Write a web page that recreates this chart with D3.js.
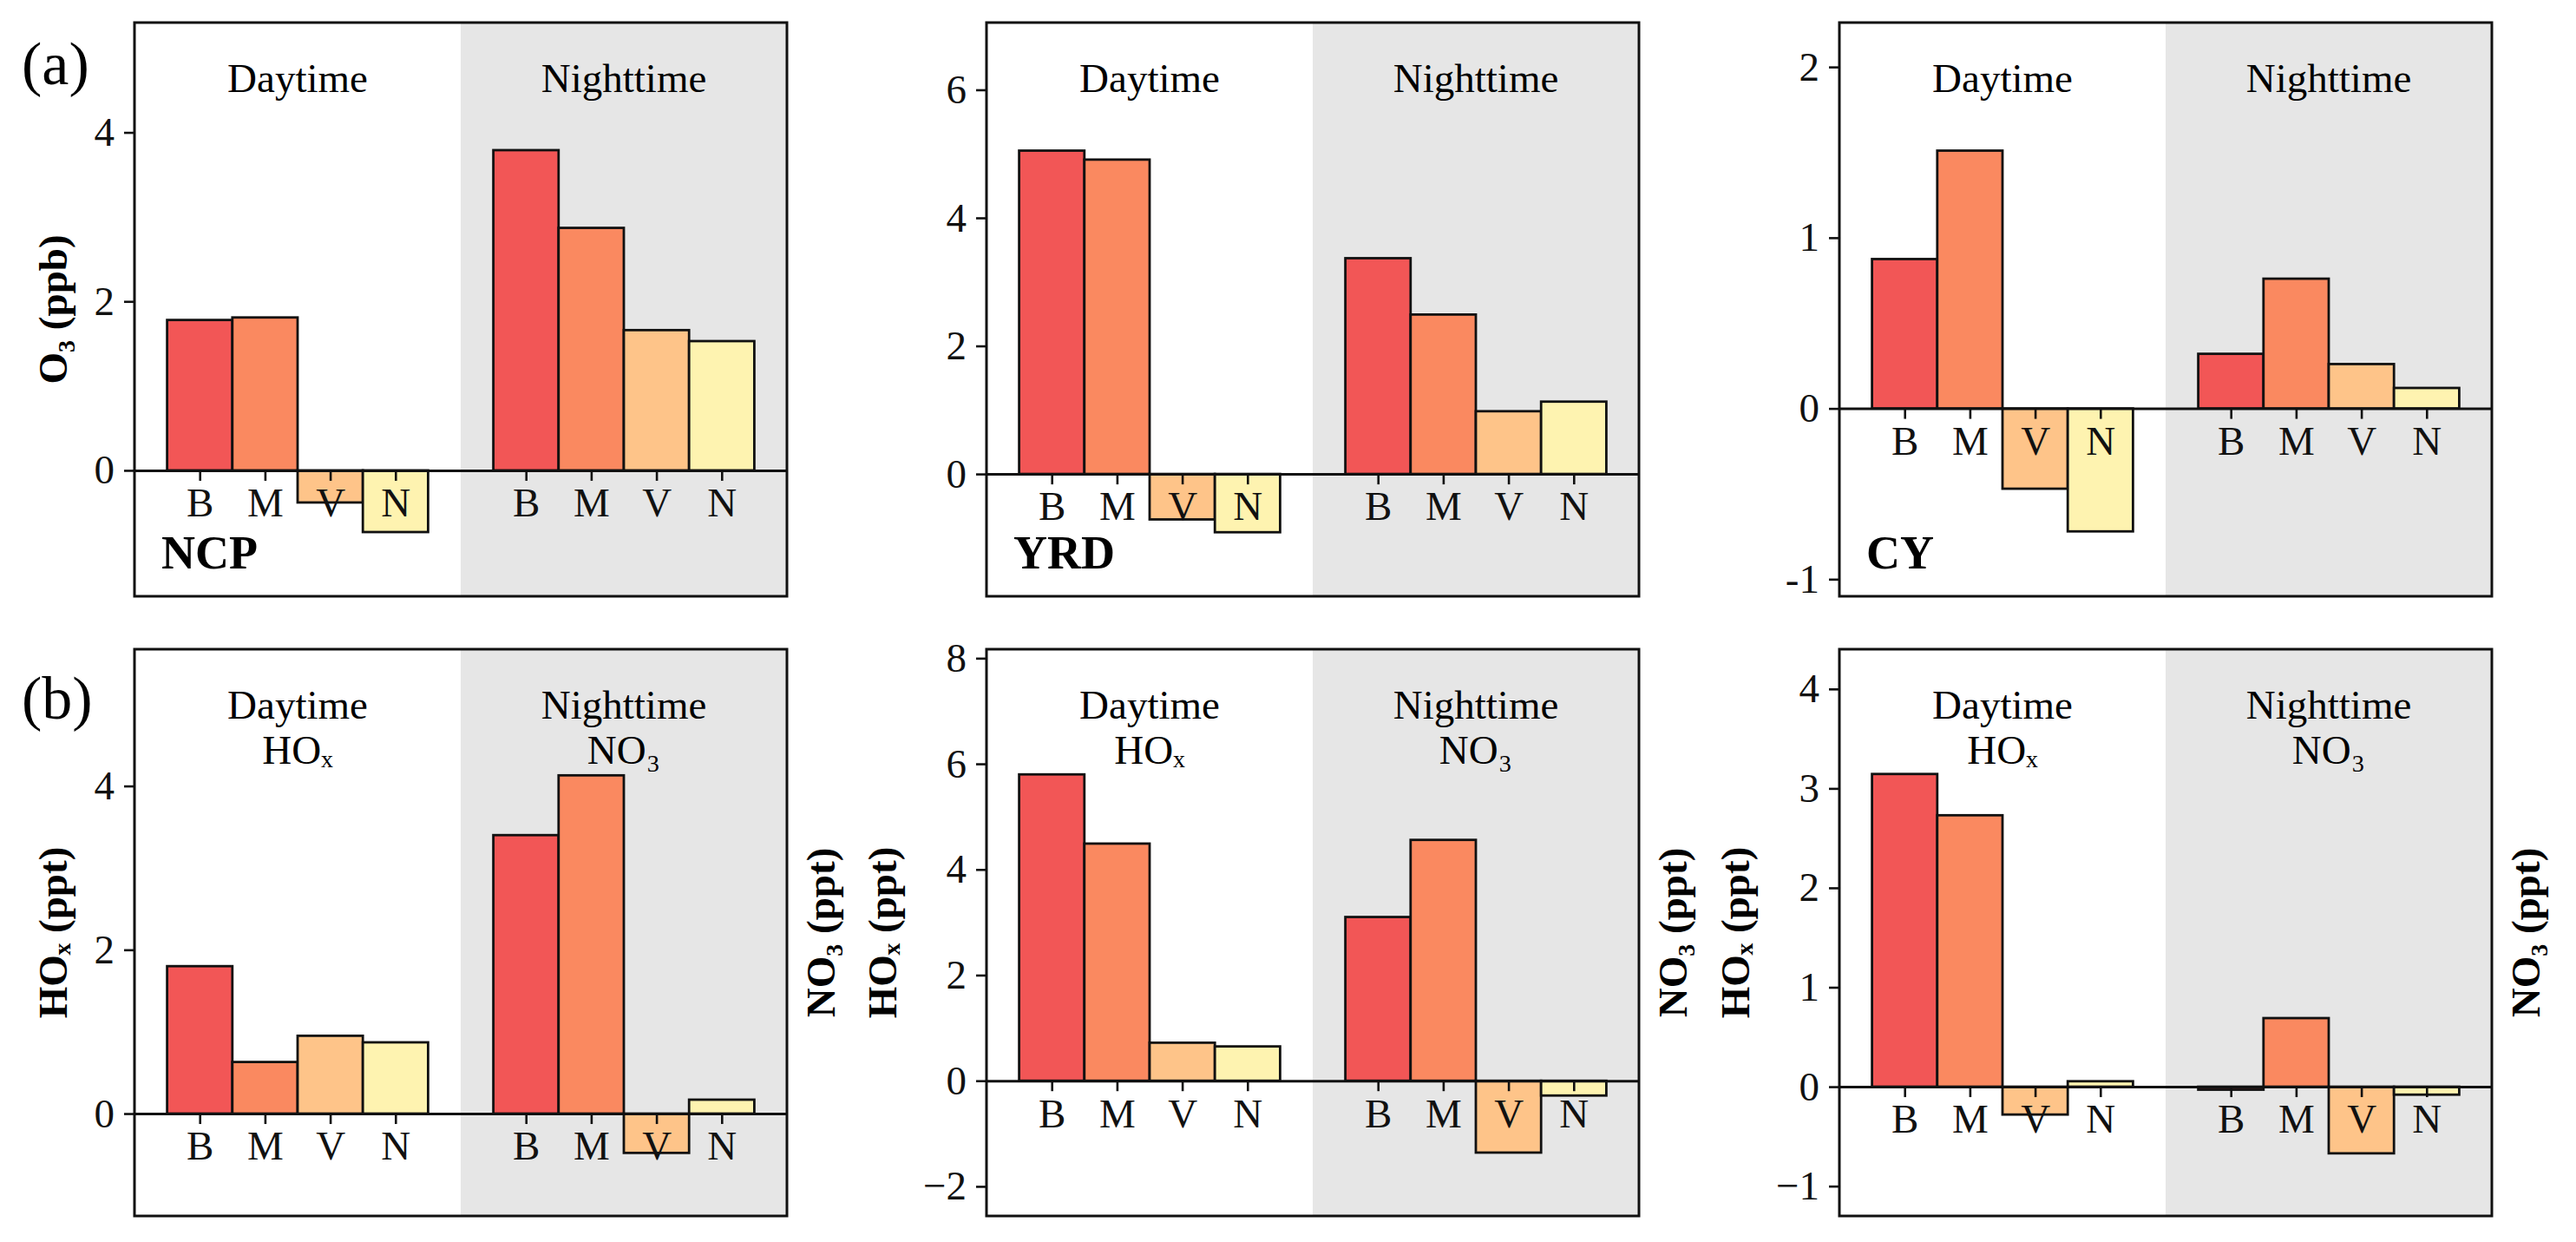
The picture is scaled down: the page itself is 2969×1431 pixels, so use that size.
<!DOCTYPE html>
<html>
<head>
<meta charset="utf-8">
<script src="https://cdn.jsdelivr.net/npm/d3@7"></script>
<style>
  body { margin: 0; background: #fff; }
  svg { display: block; font-family: "Liberation Serif", "Times New Roman", serif; }
</style>
</head>
<body>
<svg id="chart"></svg>
<script>
//Categories
const periods = ["Daytime", "Nighttime"];
const sources = ["B", "M", "V", "N"];
const regions = ["NCP", "YRD", "CY"];

//(a) O3 change (ppb): B M V N daytime, then B M V N nighttime
const o3NCP = [1.78, 1.81, -0.38, -0.73, 3.79, 2.87, 1.66, 1.53];
const o3YRD = [5.05, 4.91, -0.71, -0.91, 3.37, 2.49, 0.98, 1.13];
const o3CY  = [0.875, 1.51, -0.47, -0.72, 0.32, 0.76, 0.26, 0.12];

//(b) daytime HOx / nighttime NO3 change (ppt)
const radNCP = [1.80, 0.63, 0.95, 0.87, 3.40, 4.13, -0.48, 0.17];
const radYRD = [5.80, 4.49, 0.72, 0.65, 3.10, 4.56, -1.36, -0.28];
const radCY  = [3.145, 2.73, -0.28, 0.055, -0.03, 0.69, -0.67, -0.08];

//Y tick labels and limits per panel
const ticksO3  = [[0, 2, 4], [0, 2, 4, 6], [-1, 0, 1, 2]];
const ticksRad = [[0, 2, 4], [-2, 0, 2, 4, 6, 8], [-1, 0, 1, 2, 3, 4]];
const limsO3   = [[-1.49, 5.30], [-1.91, 7.05], [-1.10, 2.26]];
const limsRad  = [[-1.25, 5.67], [-2.56, 8.17], [-1.30, 4.40]];

const barColors = ["#f25656", "#fa8960", "#fec489", "#fef3b0"];

//Chart Setup
const w = 2969;
const h = 1431;
const panelW = 752;
const colLeft = [155, 1137, 2120];
const fontSize = 47;
const ink = "#111";

const chart = d3.select("#chart").attr("width", w).attr("height", h);
chart.append("rect").attr("width", w).attr("height", h).attr("fill", "#fff");

const rows = [
  { top: 26,  bottom: 687,  series: [o3NCP, o3YRD, o3CY],    lims: limsO3,  ticks: ticksO3,  tag: "(a)", tagY: 97,
    minus: "-", left: ["O\u2083 (ppb)", null, null], right: [null, null, null], sub: false },
  { top: 748, bottom: 1401, series: [radNCP, radYRD, radCY], lims: limsRad, ticks: ticksRad, tag: "(b)", tagY: 828,
    minus: "\u2212", left: ["HO\u2093 (ppt)", "HO\u2093 (ppt)", "HO\u2093 (ppt)"],
    right: ["NO\u2083 (ppt)", "NO\u2083 (ppt)", "NO\u2083 (ppt)"], sub: true }
];

rows.forEach((row, r) => {
  row.series.forEach((values, c) => drawPanel(row, r, c, values));
  chart.append("text")
       .attr("x", 25)
       .attr("y", row.tagY)
       .attr("font-size", 70)
       .text(row.tag);
});

function drawPanel(row, r, c, values){
  const ph = row.bottom - row.top;
  const g = chart.append("g").attr("transform", `translate(${colLeft[c]}, ${row.top})`);

  const xScale = d3.scaleLinear().domain([-1, 9]).range([0, panelW]);
  const yScale = d3.scaleLinear().domain(row.lims[c]).range([ph, 0]);

  //Nighttime shading
  g.append("rect")
   .attr("x", xScale(4))
   .attr("y", 0)
   .attr("width", xScale(9) - xScale(4))
   .attr("height", ph)
   .attr("fill", "#e6e6e6");

  const bars = values.map((v, i) => ({ v: v, pos: i < 4 ? i : i + 1, src: i % 4 }));

  g.selectAll(".bar")
   .data(bars)
   .enter()
   .append("rect")
   .classed("bar", true)
   .attr("x", (d) => xScale(d.pos - 0.5))
   .attr("width", (d) => xScale(d.pos + 0.5) - xScale(d.pos - 0.5))
   .attr("y", (d) => yScale(Math.max(d.v, 0)))
   .attr("height", (d) => Math.abs(yScale(d.v) - yScale(0)))
   .attr("fill", (d) => barColors[d.src])
   .attr("stroke", ink)
   .attr("stroke-width", 2.8);

  //Zero line with B M V N ticks
  const xAxis = d3.axisBottom(xScale)
                  .tickValues(bars.map((d) => d.pos))
                  .tickFormat((d) => sources[d < 4 ? d : d - 5])
                  .tickSize(12)
                  .tickSizeOuter(0)
                  .tickPadding(8);
  const xg = g.append("g").attr("transform", `translate(0, ${yScale(0)})`).call(xAxis);
  styleAxis(xg);

  //Y axis
  const fmt = (d) => d < 0 ? row.minus + Math.abs(d) : String(d);
  const yAxis = d3.axisLeft(yScale)
                  .tickValues(row.ticks[c])
                  .tickFormat(fmt)
                  .tickSize(12)
                  .tickPadding(11);
  const yg = g.append("g").call(yAxis);
  styleAxis(yg);
  yg.select(".domain").remove();

  //Frame
  g.append("rect")
   .attr("width", panelW)
   .attr("height", ph)
   .attr("fill", "none")
   .attr("stroke", ink)
   .attr("stroke-width", 3);

  //Period labels
  periods.forEach((p, k) => {
    g.append("text")
     .attr("x", xScale(1.5 + 5 * k))
     .attr("y", 80)
     .attr("text-anchor", "middle")
     .attr("font-size", fontSize)
     .text(p);
  });
  if (row.sub) {
    ["HO\u2093", "NO\u2083"].forEach((s, k) => {
      g.append("text")
       .attr("x", xScale(1.5 + 5 * k))
       .attr("y", 132)
       .attr("text-anchor", "middle")
       .attr("font-size", fontSize)
       .text(s);
    });
  } else {
    g.append("text")
     .attr("x", 31)
     .attr("y", ph - 32)
     .attr("font-size", 54)
     .attr("font-weight", "bold")
     .text(regions[c]);
  }

  //Axis titles
  if (row.left[c]) {
    const lx = c === 0 ? -78 : -104;
    g.append("text")
     .attr("transform", `translate(${lx}, ${ph / 2}) rotate(-90)`)
     .attr("text-anchor", "middle")
     .attr("font-size", fontSize)
     .attr("font-weight", "bold")
     .text(row.left[c]);
  }
  if (row.right[c]) {
    g.append("text")
     .attr("transform", `translate(${panelW + 55}, ${ph / 2}) rotate(-90)`)
     .attr("text-anchor", "middle")
     .attr("font-size", fontSize)
     .attr("font-weight", "bold")
     .text(row.right[c]);
  }
}

function styleAxis(sel){
  sel.attr("font-family", null).attr("font-size", null);
  sel.selectAll("line").attr("stroke", ink).attr("stroke-width", 2.6);
  sel.selectAll(".domain").attr("stroke", ink).attr("stroke-width", 3);
  sel.selectAll("text").attr("fill", ink).attr("font-size", fontSize);
}
</script>
</body>
</html>
